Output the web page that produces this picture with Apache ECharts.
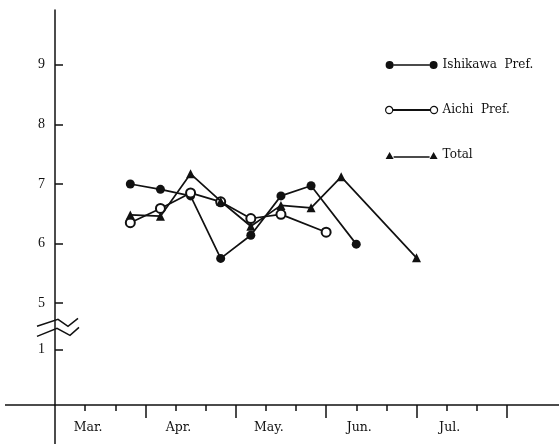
<!DOCTYPE html>
<html>
<head>
<meta charset="utf-8">
<script src="https://cdn.jsdelivr.net/npm/echarts@6/dist/echarts.min.js"></script>
<style>
  html, body { margin: 0; padding: 0; background: #fff; }
  #chart { width: 559px; height: 444px; }
</style>
</head>
<body>
<div id="chart"></div>
<script>
// Sampling positions are in ten-day steps counted from 1 March.
const ishikawaX = [2.5, 3.5, 4.5, 5.5, 6.5, 7.5, 8.5, 10];
const ishikawaY = [7.00, 6.91, 6.80, 5.75, 6.14, 6.80, 6.97, 5.99];

const aichiX = [2.5, 3.5, 4.5, 5.5, 6.5, 7.5, 9];
const aichiY = [6.35, 6.59, 6.85, 6.70, 6.42, 6.49, 6.19];

const totalX = [2.5, 3.5, 4.5, 5.5, 6.5, 7.5, 8.5, 9.5, 12];
const totalY = [6.48, 6.46, 7.17, 6.71, 6.29, 6.64, 6.60, 7.12, 5.76];

const seriesNames = ['Ishikawa  Pref.', 'Aichi  Pref.', 'Total'];

const monthLabels = ['Mar.', 'Apr.', 'May.', 'Jun.', 'Jul.'];
const monthLabelAt = [1, 4, 7, 10, 13];
const monthStartTicks = [3, 6, 9, 12, 15];
const tenDayTicks = [1, 2, 4, 5, 7, 8, 10, 11, 13, 14];

const yTickValues = [1, 5, 6, 7, 8, 9];

// Broken value scale: 0..1 sits under the break, 5 and above above it.
const LOW_UNIT = 0.931;
const HIGH_SHIFT = 3.29;
function toAxisY(v) { return v <= 1 ? v * LOW_UNIT : v - HIGH_SHIFT; }
const yTickPos = yTickValues.map(toAxisY);

function pairs(xs, ys) { return xs.map((x, i) => [x, toAxisY(ys[i])]); }

const INK = '#111';
const FONT = 'Liberation Serif';
const WIDE_FONT = 'DejaVu Serif';

const chart = echarts.init(document.getElementById('chart'), null, { renderer: 'canvas' });

const legendPathCircles = 'path://M0,4a4,4 0 1,0 8,0a4,4 0 1,0 -8,0Z M8,3.3L44,3.3L44,4.7L8,4.7Z M44,4a4,4 0 1,0 8,0a4,4 0 1,0 -8,0Z';
const legendPathOpen = 'path://M0.5,4a3.5,3.5 0 1,0 7,0a3.5,3.5 0 1,0 -7,0Z M8,3.5L44,3.5L44,4.5L8,4.5Z M44.5,4a3.5,3.5 0 1,0 7,0a3.5,3.5 0 1,0 -7,0Z';
const legendPathTri = 'path://M0,8L4,1L8,8Z M8,5.3L44,5.3L44,6.7L8,6.7Z M44,8L48,1L52,8Z M0,0L0.01,0Z';

const option = {
  animation: false,
  backgroundColor: '#fff',
  grid: { left: 55, right: 0, top: 10, bottom: 39, containLabel: false, outerBoundsMode: 'none' },
  legend: {
    orient: 'vertical',
    left: 380,
    top: 52,
    itemWidth: 52,
    itemHeight: 8,
    itemGap: 29,
    selectedMode: false,
    textStyle: { fontFamily: WIDE_FONT, fontSize: 12, color: INK, lineHeight: 16 },
    data: [
      { name: seriesNames[0], icon: legendPathCircles, itemStyle: { color: INK, borderWidth: 0 } },
      { name: seriesNames[1], icon: legendPathOpen, itemStyle: { color: '#fff', borderColor: INK, borderWidth: 1.2 } },
      { name: seriesNames[2], icon: legendPathTri, itemStyle: { color: INK, borderWidth: 0 } }
    ]
  },
  xAxis: [
    {
      type: 'value',
      min: 0,
      max: 16.73,
      position: 'bottom',
      splitLine: { show: false },
      axisLine: { show: true, onZero: false, lineStyle: { color: INK, width: 1.5 } },
      axisTick: { show: true, inside: false, length: 13, customValues: monthStartTicks, lineStyle: { color: INK, width: 1.5 } },
      axisLabel: {
        show: true,
        customValues: monthLabelAt,
        formatter: v => monthLabels[monthLabelAt.indexOf(Math.round(v))] || '',
        margin: 16,
        padding: [0, 0, 0, 6],
        fontFamily: WIDE_FONT,
        fontSize: 12.5,
        color: INK
      }
    },
    {
      type: 'value',
      min: 0,
      max: 16.73,
      position: 'bottom',
      splitLine: { show: false },
      axisLine: { show: false, onZero: false },
      axisTick: { show: true, inside: false, length: 6, customValues: tenDayTicks, lineStyle: { color: INK, width: 1.5 } },
      axisLabel: { show: false }
    }
  ],
  yAxis: {
    type: 'value',
    min: 0,
    max: 6.63,
    position: 'left',
    splitLine: { show: false },
    axisLine: { show: true, onZero: false, lineStyle: { color: INK, width: 1.5 } },
    axisTick: { show: true, inside: true, length: 8, customValues: yTickPos, lineStyle: { color: INK, width: 1.5 } },
    axisLabel: {
      show: true,
      customValues: yTickPos,
      formatter: v => {
        let best = 0;
        yTickPos.forEach((p, i) => { if (Math.abs(p - v) < Math.abs(yTickPos[best] - v)) best = i; });
        return String(yTickValues[best]);
      },
      margin: 10,
      fontFamily: FONT,
      fontSize: 14,
      color: INK
    }
  },
  series: [
    {
      name: seriesNames[0],
      type: 'line',
      xAxisIndex: 0,
      data: pairs(ishikawaX, ishikawaY),
      symbol: 'circle',
      symbolSize: 9,
      itemStyle: { color: INK },
      lineStyle: { color: INK, width: 1.7 },
      z: 3
    },
    {
      name: seriesNames[1],
      type: 'line',
      xAxisIndex: 0,
      data: pairs(aichiX, aichiY),
      symbol: 'emptyCircle',
      symbolSize: 9,
      itemStyle: { color: INK, borderWidth: 1.2 },
      lineStyle: { color: INK, width: 1.7 },
      z: 4
    },
    {
      name: seriesNames[2],
      type: 'line',
      xAxisIndex: 0,
      data: pairs(totalX, totalY),
      symbol: 'triangle',
      symbolSize: 9,
      itemStyle: { color: INK },
      lineStyle: { color: INK, width: 1.7 },
      z: 5
    }
  ]
};

chart.setOption(option);

// Axis lines run on past their crossing point; scale-break marks sit between 1 and 5.
const origin = chart.convertToPixel({ xAxisIndex: 0, yAxisIndex: 0 }, [0, 0]);
const mid = chart.convertToPixel({ xAxisIndex: 0, yAxisIndex: 0 }, [0, (toAxisY(1) + toAxisY(5)) / 2]);
const upper = [[-18, 0], [3, -7], [13, 0], [23, -8]];
const lower = [[-18, 10], [2, 2], [15, 9], [24, 1]];
const lineStyle = { stroke: INK, lineWidth: 1.5, fill: null };
chart.setOption({
  graphic: [
    { type: 'line', shape: { x1: 5, y1: origin[1], x2: origin[0], y2: origin[1] }, style: lineStyle, z: 10 },
    { type: 'line', shape: { x1: origin[0], y1: origin[1], x2: origin[0], y2: chart.getHeight() }, style: lineStyle, z: 10 }
  ].concat([upper, lower].map(pts => ({
    type: 'polyline',
    shape: { points: pts.map(p => [mid[0] + p[0], mid[1] + p[1]]) },
    style: lineStyle,
    z: 10
  })))
});
</script>
</body>
</html>
